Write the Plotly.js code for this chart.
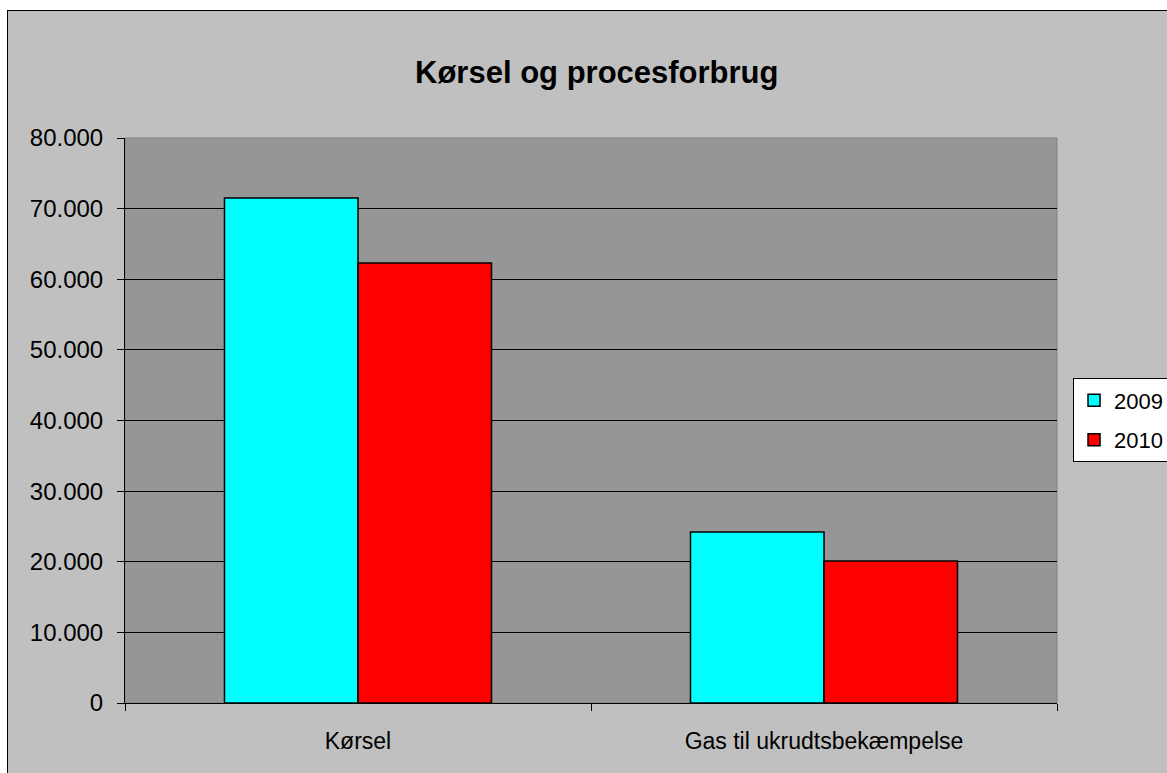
<!DOCTYPE html>
<html>
<head>
<meta charset="utf-8">
<script src="https://cdn.plot.ly/plotly-3.0.1.min.js"></script>
<style>
  html, body { margin: 0; padding: 0; background: #ffffff; }
  #wrap { position: relative; width: 1167px; height: 773px; overflow: hidden; background: #ffffff; }
  #frame { position: absolute; left: 7px; top: 10px; width: 1160px; height: 763px;
           border-left: 1px solid #000; border-top: 1px solid #000; box-sizing: border-box; }
  #chart { position: absolute; left: 8px; top: 11px; width: 1159px; height: 762px; }
</style>
</head>
<body>
<div id="wrap">
  <div id="frame"></div>
  <div id="chart"></div>
</div>
<script>
const categories = ["Kørsel", "Gas til ukrudtsbekæmpelse"];
const seriesNames = ["2009", "2010"];
const values2009 = [71500, 24200];
const values2010 = [62300, 20100];
const yTickVals = [0, 10000, 20000, 30000, 40000, 50000, 60000, 70000, 80000];

const font = "Liberation Sans, Arial, sans-serif";

const traces = [
  { type: "bar", name: seriesNames[0], x: categories, y: values2009, legendgroup: "a",
    marker: { color: "#00ffff", line: { color: "#000000", width: 1.5 } } },
  { type: "bar", name: seriesNames[1], x: categories, y: values2010, legendgroup: "b",
    marker: { color: "#ff0000", line: { color: "#000000", width: 1.5 } } }
];

const layout = {
  width: 1159, height: 762,
  margin: { l: 117, r: 110, t: 126.5, b: 70.3, autoexpand: false },
  paper_bgcolor: "#c0c0c0",
  plot_bgcolor: "#969696",
  separators: ",.",
  font: { family: font, color: "#000000", size: 23 },
  title: { text: "<b>Kørsel og procesforbrug</b>", xref: "container", x: 0.508,
           yref: "container", y: 0.92, yanchor: "middle", xanchor: "center",
           font: { family: font, size: 31, color: "#000000" } },
  barmode: "group",
  bargap: 0.427,
  bargroupgap: 0,
  showlegend: true,
  legend: { x: 1.0172, xanchor: "left", y: 0.5745, yanchor: "top",
            bgcolor: "#ffffff", bordercolor: "#000000", borderwidth: 1,
            font: { family: font, size: 22, color: "#000000" },
            traceorder: "grouped", tracegroupgap: 8, itemwidth: 30 },
  xaxis: { type: "category", showline: true, linecolor: "#000000", linewidth: 1,
           ticks: "outside", tickson: "boundaries", ticklen: 7, tickcolor: "#000000",
           showgrid: false, ticklabelstandoff: 17,
           tickfont: { family: font, size: 23, color: "#000000" } },
  yaxis: { range: [0, 80000], tickvals: yTickVals, tickformat: ",d",
           showline: true, linecolor: "#000000", linewidth: 1,
           ticks: "outside", ticklen: 7, tickcolor: "#000000",
           showgrid: true, gridcolor: "#000000", gridwidth: 1,
           zeroline: false, ticklabelstandoff: 9,
           tickfont: { family: font, size: 24, color: "#000000" } },
  shapes: [
    { type: "rect", xref: "paper", yref: "paper", x0: 0, x1: 1, y0: 0, y1: 1,
      line: { color: "#808080", width: 1 }, layer: "below" }
  ]
};

Plotly.newPlot("chart", traces, layout, { displayModeBar: false, staticPlot: true });
</script>
</body>
</html>
